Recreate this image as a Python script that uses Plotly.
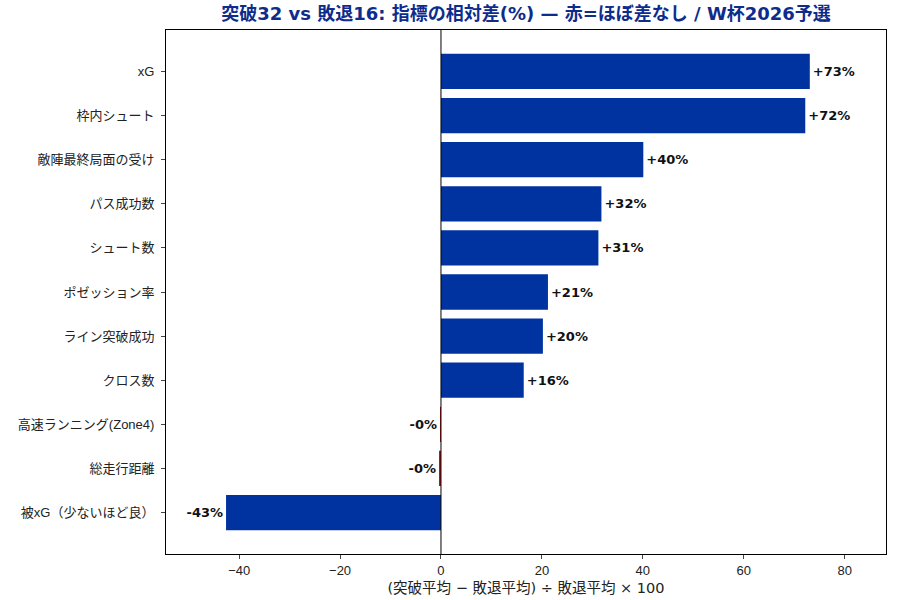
import plotly.graph_objects as go

categories = ["xG", "枠内シュート", "敵陣最終局面の受け", "パス成功数", "シュート数",
              "ポゼッション率", "ライン突破成功", "クロス数", "高速ランニング(Zone4)",
              "総走行距離", "被xG（少ないほど良）"]
values = [73.1, 72.2, 40.1, 31.8, 31.2, 21.2, 20.2, 16.4, -0.05, -0.3, -42.6]
near_zero_threshold = 1.0

blue = "#0033A0"
red = "#B01818"
colors = [red if abs(v) < near_zero_threshold else blue for v in values]
labels = [f"{v:+.0f}%" for v in values]

FONT = "Liberation Sans, Noto Sans CJK JP, sans-serif"
WIDE = "DejaVu Sans, Noto Sans CJK JP, sans-serif"

fig = go.Figure()
fig.add_trace(go.Bar(
    y=categories, x=values, orientation="h",
    marker=dict(color=colors, line=dict(width=0)),
    width=0.8,
    text=labels, textposition="outside", cliponaxis=False,
    textfont=dict(family=WIDE, size=13, color="#111111", weight="bold"),
    constraintext="none",
))
fig.add_vline(x=0, line=dict(color="black", width=1))

fig.update_layout(
    width=900, height=600,
    margin=dict(l=166, r=14, t=30, b=46),
    paper_bgcolor="white", plot_bgcolor="white",
    font=dict(family=FONT, size=13, color="#222222"),
    title=dict(text="突破32 vs 敗退16: 指標の相対差(%) — 赤=ほぼ差なし / W杯2026予選",
               xref="paper", x=0.5, xanchor="center", y=0.987, yanchor="top",
               font=dict(family=WIDE, size=18, color="#0D2C8C", weight="bold")),
    showlegend=False,
    bargap=0.2,
)
fig.update_xaxes(range=[-54.5, 88.2], tickvals=[-40, -20, 0, 20, 40, 60, 80],
                 ticks="outside", ticklen=4, showgrid=False, zeroline=False,
                 showline=True, linecolor="black", linewidth=1, mirror=True,
                 automargin=False,
                 title=dict(text="(突破平均 − 敗退平均) ÷ 敗退平均 × 100", standoff=6,
                            font=dict(family=WIDE, size=14.5)),
                 tickfont=dict(size=13))
fig.update_yaxes(categoryorder="array", categoryarray=categories, autorange=False,
                 range=[10.94, -0.94], automargin=False,
                 ticks="outside", ticklen=4, showgrid=False, zeroline=False,
                 showline=True, linecolor="black", linewidth=1, mirror=True,
                 tickfont=dict(size=13), ticklabelstandoff=4)

fig.write_html("out.html")
